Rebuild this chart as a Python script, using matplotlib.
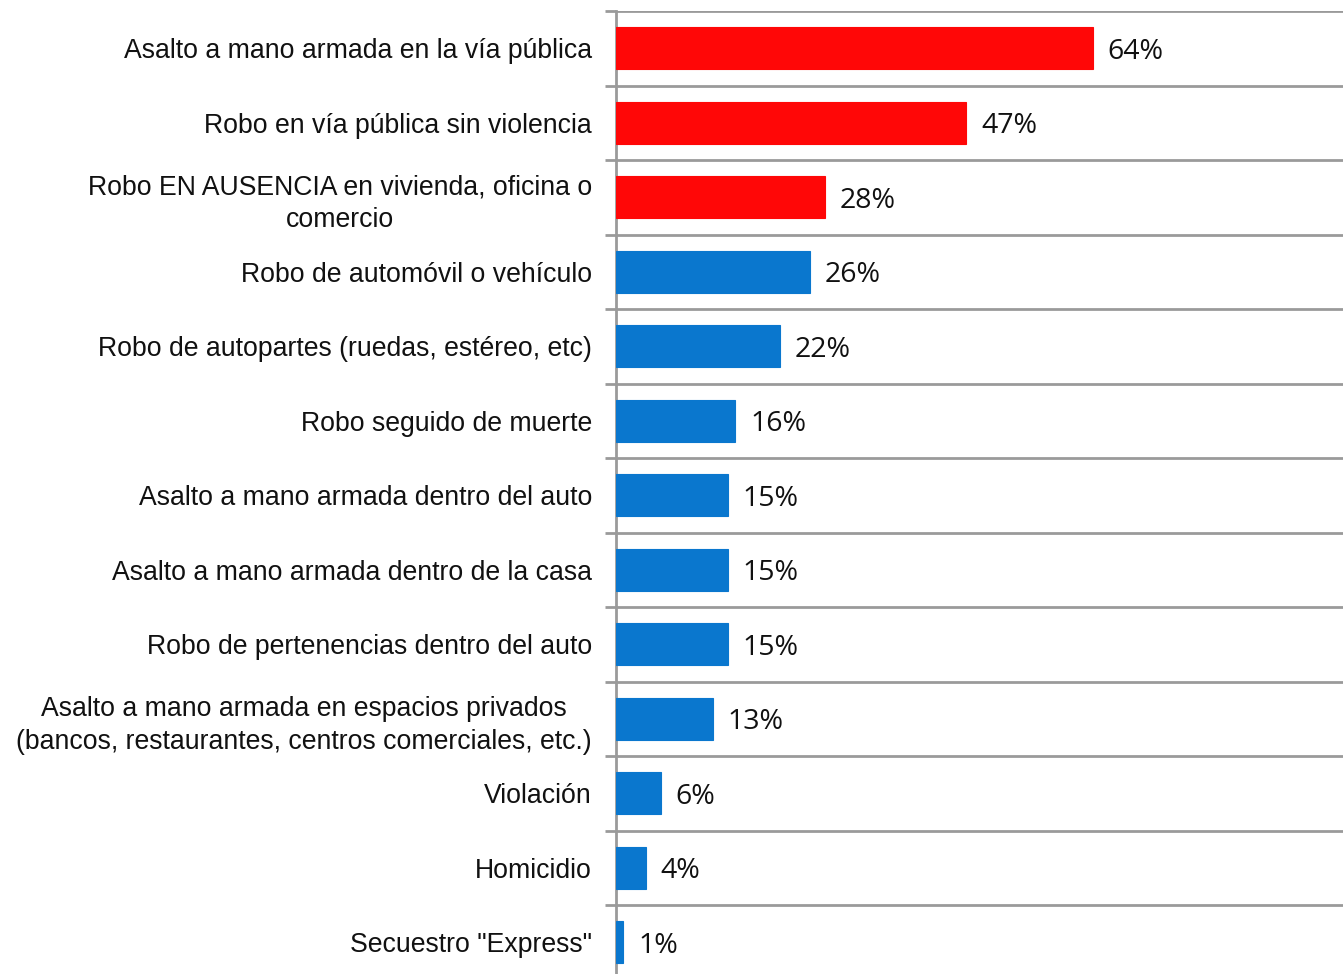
import matplotlib
matplotlib.use("Agg")
import matplotlib.pyplot as plt
import numpy as np

categories = [
    "Asalto a mano armada en la vía pública",
    "Robo en vía pública sin violencia",
    "Robo EN AUSENCIA en vivienda, oficina o\ncomercio",
    "Robo de automóvil o vehículo",
    "Robo de autopartes (ruedas, estéreo, etc)",
    "Robo seguido de muerte",
    "Asalto a mano armada dentro del auto",
    "Asalto a mano armada dentro de la casa",
    "Robo de pertenencias dentro del auto",
    "Asalto a mano armada en espacios privados\n(bancos, restaurantes, centros comerciales, etc.)",
    "Violación",
    "Homicidio",
    "Secuestro \"Express\"",
]
values = [64, 47, 28, 26, 22, 16, 15, 15, 15, 13, 6, 4, 1]
highlight = [True, True, True] + [False] * 10

RED = "#FF0707"
BLUE = "#0A77CE"
GRID = "#9A9A9A"

W, H = 1343, 974
fig = plt.figure(figsize=(W / 100, H / 100), dpi=100)
ax_left = 616 / W
ax_right = 1.0
ax_bottom_px = 11 + 13 * 74.5
ax = fig.add_axes([ax_left, 1 - ax_bottom_px / H, ax_right - ax_left, (ax_bottom_px - 11) / H])

n = len(categories)
ypos = np.arange(n)
colors = [RED if h else BLUE for h in highlight]
ax.barh(ypos, values, height=0.56, color=colors, edgecolor=colors, linewidth=0.8, zorder=3)
ax.set_ylim(n - 0.5, -0.5)
px_per_pct = 7.45
ax.set_xlim(0, (W - 616) / px_per_pct)

# gridlines at category boundaries
bounds = np.arange(n + 1) - 0.5
ax.set_yticks(bounds, minor=False)
ax.set_yticklabels([])
ax.tick_params(axis="y", which="major", length=8, width=2, color=GRID, direction="out")
ax.grid(axis="y", which="major", color=GRID, linewidth=2, zorder=1)
ax.set_yticks(ypos, minor=True)
ax.set_yticklabels(categories, minor=True, fontsize=19.2, family="Liberation Sans", color="#111111",
                   ha="right", multialignment="center", linespacing=1.35)
ax.tick_params(axis="y", which="minor", length=0, pad=17.3)
ax.set_xticks([])
for s in ["top", "right", "bottom"]:
    ax.spines[s].set_visible(False)
ax.spines["left"].set_color(GRID)
ax.spines["left"].set_linewidth(2)

for y, v in zip(ypos, values):
    ax.text(v + 2.0, y + 0.05, f"{v}%", va="center", ha="left", fontsize=20.5, family="Open Sans", color="#111111")

fig.savefig("out.png", dpi=100)
